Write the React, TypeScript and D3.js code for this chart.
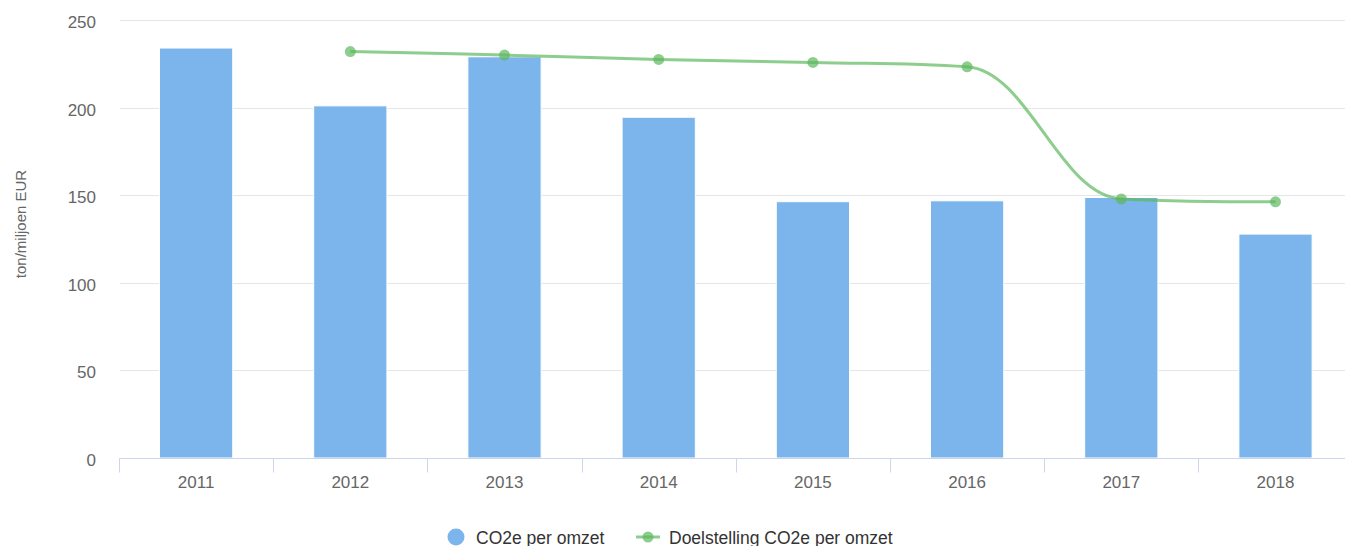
import React, { useEffect, useRef } from 'react';
import * as d3 from 'd3';

// jaren op de x-as
const years: string[] = ['2011', '2012', '2013', '2014', '2015', '2016', '2017', '2018'];
// CO2e per omzet (ton/miljoen EUR)
const co2PerOmzet: number[] = [234, 201, 229, 194.5, 146.3, 146.8, 148.7, 127.8];
// doelstelling, begint in 2012
const doelstelling: (number | null)[] = [null, 232, 230, 227.5, 225.8, 223.3, 147.9, 146.2];
const yTicks: number[] = [0, 50, 100, 150, 200, 250];

const W = 1345;
const H = 546;
const FONT = '"Liberation Sans", Arial, Helvetica, sans-serif';

type Pt = { x: number; y: number; rcx?: number; rcy?: number };

// Highcharts-achtige spline
function splinePath(pts: Pt[]): string {
  const s = 1.5;
  const den = s + 1;
  let d = '';
  pts.forEach((p, i) => {
    const last = pts[i - 1];
    const next = pts[i + 1];
    let lcx: number | undefined;
    let lcy: number | undefined;
    if (last && next) {
      lcx = (s * p.x + last.x) / den;
      lcy = (s * p.y + last.y) / den;
      const rcx = (s * p.x + next.x) / den;
      let rcy = (s * p.y + next.y) / den;
      let corr = 0;
      if (rcx !== lcx) corr = ((rcy - lcy) * (rcx - p.x)) / (rcx - lcx) + p.y - rcy;
      lcy += corr;
      rcy += corr;
      if (lcy > last.y && lcy > p.y) {
        lcy = Math.max(last.y, p.y);
        rcy = 2 * p.y - lcy;
      } else if (lcy < last.y && lcy < p.y) {
        lcy = Math.min(last.y, p.y);
        rcy = 2 * p.y - lcy;
      }
      if (rcy > next.y && rcy > p.y) {
        rcy = Math.max(next.y, p.y);
        lcy = 2 * p.y - rcy;
      } else if (rcy < next.y && rcy < p.y) {
        rcy = Math.min(next.y, p.y);
        lcy = 2 * p.y - rcy;
      }
      p.rcx = rcx;
      p.rcy = rcy;
    }
    if (!last) {
      d += `M${p.x},${p.y}`;
    } else {
      d += `C${last.rcx ?? last.x},${last.rcy ?? last.y} ${lcx ?? p.x},${lcy ?? p.y} ${p.x},${p.y}`;
    }
  });
  return d;
}

const Chart: React.FC = () => {
  const svgRef = useRef<SVGSVGElement | null>(null);

  useEffect(() => {
    if (!svgRef.current) return;
    const margin = { top: 20, left: 119, bottom: 88 };
    const plotRight = 1352.6;

    const svg = d3.select(svgRef.current);
    svg.selectAll('*').remove();

    const x = d3.scaleBand<string>().domain(years).range([margin.left, plotRight]).padding(0);
    const y = d3.scaleLinear().domain([0, 250]).range([H - margin.bottom, margin.top]);
    const y0 = y(0);

    // rasterlijnen
    svg
      .append('g')
      .selectAll('line')
      .data(yTicks.filter((t) => t > 0))
      .join('line')
      .attr('x1', margin.left + 1)
      .attr('x2', plotRight)
      .attr('y1', (d) => Math.round(y(d)) + 0.5)
      .attr('y2', (d) => Math.round(y(d)) + 0.5)
      .attr('stroke', '#e6e6e6')
      .attr('stroke-width', 1);

    // y labels
    svg
      .append('g')
      .selectAll('text')
      .data(yTicks)
      .join('text')
      .attr('x', 96)
      .attr('y', (d) => y(d) + 8)
      .attr('text-anchor', 'end')
      .attr('font-size', 17)
      .attr('fill', '#666666')
      .text((d) => d);

    // y titel
    svg
      .append('text')
      .attr('transform', `translate(26,224) rotate(-90)`)
      .attr('text-anchor', 'middle')
      .attr('font-size', 15)
      .attr('fill', '#666666')
      .text('ton/miljoen EUR');

    // staven
    const bw = x.bandwidth() * 0.475;
    svg
      .append('g')
      .selectAll('rect')
      .data(co2PerOmzet)
      .join('rect')
      .attr('x', (_, i) => (x(years[i]) ?? 0) + x.bandwidth() / 2 - bw / 2)
      .attr('y', (d) => y(d))
      .attr('width', bw)
      .attr('height', (d) => y0 - y(d))
      .attr('fill', '#7cb5ec')
      .attr('stroke', '#ffffff')
      .attr('stroke-width', 1);

    // x-as
    const axisY = Math.round(y0) + 0.5;
    svg
      .append('line')
      .attr('x1', margin.left)
      .attr('x2', plotRight)
      .attr('y1', axisY)
      .attr('y2', axisY)
      .attr('stroke', '#ccd6eb')
      .attr('stroke-width', 1);
    const tickXs = years.map((yr) => x(yr) ?? 0).concat([plotRight]);
    svg
      .append('g')
      .selectAll('line')
      .data(tickXs)
      .join('line')
      .attr('x1', (d) => Math.round(d) + 0.5)
      .attr('x2', (d) => Math.round(d) + 0.5)
      .attr('y1', axisY)
      .attr('y2', axisY + 14)
      .attr('stroke', '#ccd6eb')
      .attr('stroke-width', 1);
    svg
      .append('g')
      .selectAll('text')
      .data(years)
      .join('text')
      .attr('x', (d) => (x(d) ?? 0) + x.bandwidth() / 2)
      .attr('y', y0 + 29.5)
      .attr('text-anchor', 'middle')
      .attr('font-size', 17)
      .attr('fill', '#666666')
      .text((d) => d);

    // doelstelling lijn
    const pts: Pt[] = [];
    doelstelling.forEach((v, i) => {
      if (v != null) pts.push({ x: (x(years[i]) ?? 0) + x.bandwidth() / 2, y: y(v) });
    });
    const green = '#5cb85c';
    svg
      .append('path')
      .attr('d', splinePath(pts))
      .attr('fill', 'none')
      .attr('stroke', green)
      .attr('stroke-opacity', 0.7)
      .attr('stroke-width', 3);
    svg
      .append('g')
      .selectAll('circle')
      .data(pts)
      .join('circle')
      .attr('cx', (d) => d.x)
      .attr('cy', (d) => d.y)
      .attr('r', 5.5)
      .attr('fill', green)
      .attr('fill-opacity', 0.7);

    // legenda
    const lg = svg.append('g').attr('font-size', 17.5).attr('fill', '#333333');
    lg.append('circle').attr('cx', 456).attr('cy', 537).attr('r', 8.5).attr('fill', '#7cb5ec');
    lg.append('text').attr('x', 476).attr('y', 543.5).text('CO2e per omzet');
    lg.append('line')
      .attr('x1', 636)
      .attr('x2', 660)
      .attr('y1', 537)
      .attr('y2', 537)
      .attr('stroke', green)
      .attr('stroke-opacity', 0.7)
      .attr('stroke-width', 3);
    lg.append('circle').attr('cx', 648).attr('cy', 537).attr('r', 5.5).attr('fill', green).attr('fill-opacity', 0.7);
    lg.append('text').attr('x', 669).attr('y', 543.5).text('Doelstelling CO2e per omzet');
  }, []);

  return (
    <div style={{ position: 'absolute', left: 0, top: 0, width: W, height: H, overflow: 'hidden', background: '#fff' }}>
      <svg ref={svgRef} width={W} height={H} style={{ display: 'block', fontFamily: FONT }}></svg>
    </div>
  );
};

export default function App() {
  return <Chart />;
}
